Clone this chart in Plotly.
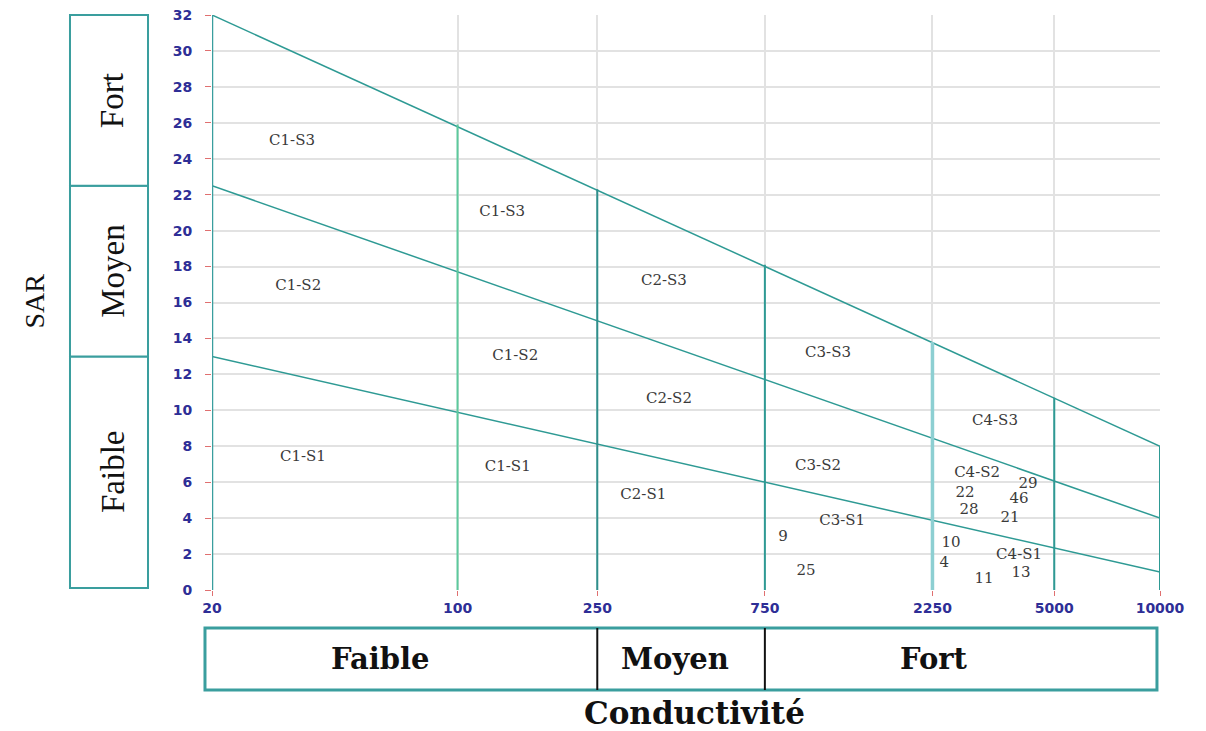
import plotly.graph_objects as go

# ---- data ----
cond_ticks = [20, 100, 250, 750, 2250, 5000, 10000]
sar_ticks = list(range(0, 33, 2))

# diagonal boundary lines (endpoints at 20 and 10000)
line_x = [20, 10000]
line_top = [32, 8]      # upper limit S3
line_s2s3 = [22.5, 4]   # S2 / S3 boundary
line_s1s2 = [13, 1]     # S1 / S2 boundary

# vertical class dividers and their upper end (read on the top line)
vert_x = [20, 100, 250, 750, 2250, 5000, 10000]
vert_top = [32, 25.9, 22.3, 18.1, 13.8, 10.7, 8]
vert_colors = ["#3a9e9e", "#5cc99c", "#2e8f8c", "#2e9a94", "#8dcfd2", "#2e9a94", "#2e9a94"]
vert_widths = [2.5, 2, 2, 2, 3.5, 2, 2]

# zone labels
zone_labels = ["C1-S3", "C1-S3", "C1-S2", "C1-S2", "C1-S1", "C1-S1",
               "C2-S3", "C2-S2", "C2-S1", "C3-S3", "C3-S2", "C3-S1",
               "C4-S3", "C4-S2", "C4-S1"]
zone_x = [33.8, 134, 35.2, 146, 36.3, 139, 387, 400, 338, 1135, 1063, 1245, 3390, 3015, 3970]
zone_y = [25.0, 21.0, 16.9, 13.0, 7.4, 6.85, 17.2, 10.6, 5.3, 13.2, 6.9, 3.8, 9.4, 6.5, 1.95]

# samples
sample_ids = ["9", "25", "10", "4", "11", "13", "22", "28", "21", "46", "29"]
sample_x = [845, 982, 2543, 2430, 3157, 4020, 2787, 2860, 3743, 3970, 4210]
sample_y = [2.95, 1.06, 2.6, 1.5, 0.6, 0.95, 5.4, 4.45, 4.0, 5.06, 5.9]

# side scale boxes
sar_classes = ["Faible", "Moyen", "Fort"]
sar_class_bounds = [0, 13, 22.5, 32]
cond_classes = ["Faible", "Moyen", "Fort"]
cond_class_bounds = [20, 250, 750, 10000]

teal = "#2e9a94"
serif = "Liberation Serif, Times New Roman, serif"
wserif = "DejaVu Serif, serif"

fig = go.Figure()

for ys in (line_top, line_s2s3, line_s1s2):
    fig.add_trace(go.Scatter(x=line_x, y=ys, mode="lines",
                             line=dict(color=teal, width=1.5),
                             hoverinfo="skip", showlegend=False))

for xv, yt, c, w in zip(vert_x, vert_top, vert_colors, vert_widths):
    fig.add_trace(go.Scatter(x=[xv, xv], y=[0, yt], mode="lines",
                             line=dict(color=c, width=w),
                             hoverinfo="skip", showlegend=False))

fig.add_trace(go.Scatter(x=zone_x, y=zone_y, mode="text", text=zone_labels,
                         textfont=dict(family=wserif, size=15, color="#3a3a3a"),
                         hoverinfo="skip", showlegend=False))
fig.add_trace(go.Scatter(x=sample_x, y=sample_y, mode="text", text=sample_ids,
                         textfont=dict(family=wserif, size=15, color="#3a3a3a"),
                         showlegend=False))

# Left SAR class boxes
box_x0, box_x1 = -0.1498, -0.0675
for i, name in enumerate(sar_classes):
    y0 = max(sar_class_bounds[i] / 32, 0.0035)
    y1 = sar_class_bounds[i + 1] / 32
    fig.add_shape(type="rect", xref="paper", yref="paper",
                  x0=box_x0, x1=box_x1, y0=y0, y1=y1,
                  line=dict(color="#3a9e9e", width=2), fillcolor="white", layer="below")
    fig.add_annotation(xref="paper", yref="paper", x=(box_x0 + box_x1) / 2 + 0.004,
                       y=(y0 + y1) / 2, text=name, textangle=-90,
                       xanchor="center", yanchor="middle", showarrow=False,
                       font=dict(family=serif, size=33, color="#111111"))

# Bottom conductivity class boxes
bot_y0, bot_y1 = -0.1739, -0.0661
fig.add_shape(type="rect", xref="paper", yref="paper",
              x0=-0.0074, x1=0.9968, y0=bot_y0, y1=bot_y1,
              line=dict(color="#3a9e9e", width=3), fillcolor="white", layer="below")
for xb in cond_class_bounds[1:-1]:
    fig.add_shape(type="line", xref="x", yref="paper",
                  x0=xb, x1=xb, y0=bot_y0, y1=bot_y1,
                  line=dict(color="#111111", width=2))
bot_label_x = [0.178, 0.488, 0.762]
for name, xp in zip(cond_classes, bot_label_x):
    fig.add_annotation(xref="paper", yref="paper", x=xp, y=(bot_y0 + bot_y1) / 2,
                       text="<b>" + name + "</b>", showarrow=False,
                       xanchor="center", yanchor="middle",
                       font=dict(family=wserif, size=29, color="#111111"))

fig.add_annotation(xref="paper", yref="paper", x=0.509, y=-0.214,
                   text="<b>Conductivité</b>", showarrow=False,
                   xanchor="center", yanchor="middle",
                   font=dict(family=wserif, size=31, color="#111111"))
fig.add_annotation(xref="paper", yref="paper", x=-0.187, y=0.503,
                   text="SAR", textangle=-90, showarrow=False,
                   xanchor="center", yanchor="middle",
                   font=dict(family=serif, size=28, color="#111111"))

tickfont = dict(family="DejaVu Sans, Verdana, sans-serif", size=14,
                color="#2e2e96", weight="bold")

# page body has an 8px margin: shrink the figure so the plot lands where the reference has it
fig.update_layout(
    width=1198, height=723,
    margin=dict(l=204, r=46, t=7, b=141),
    paper_bgcolor="white", plot_bgcolor="white",
    showlegend=False,
    xaxis=dict(type="log", range=[1.30103, 4.0], tickvals=cond_ticks,
               ticktext=[str(v) for v in cond_ticks],
               showgrid=True, gridcolor="#e2e2e2", gridwidth=1.5,
               zeroline=False, showline=False, automargin=False,
               ticks="outside", ticklen=5, tickcolor="#e07070",
               ticklabeloverflow="allow", tickfont=tickfont),
    yaxis=dict(range=[-0.0001, 32.0001], tickvals=sar_ticks,
               showgrid=True, gridcolor="#e2e2e2", gridwidth=1.5,
               zeroline=False, showline=False, automargin=False,
               ticks="outside", ticklen=6, tickcolor="#e07070",
               ticklabeloverflow="allow",
               ticklabelstandoff=10, tickfont=tickfont),
)

fig.write_html("out.html")
